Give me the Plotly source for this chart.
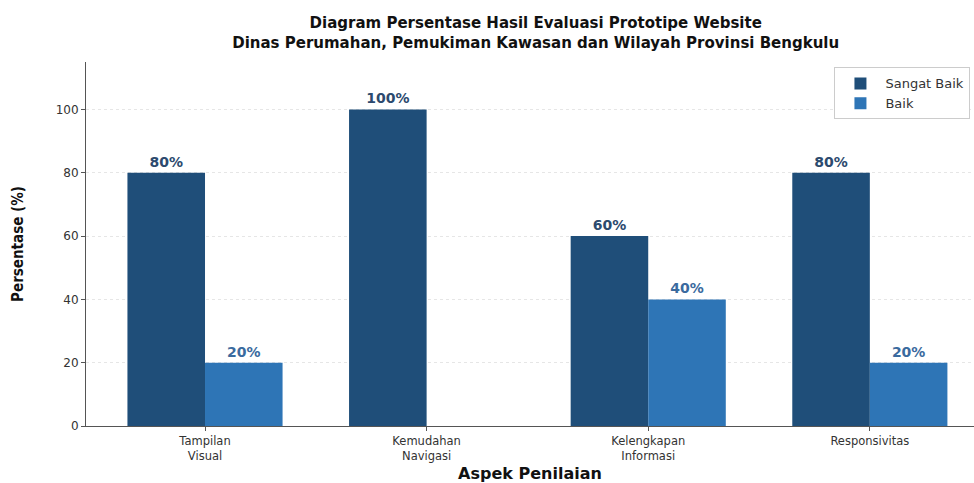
import plotly.graph_objects as go

categories = ["Tampilan<br>Visual", "Kemudahan<br>Navigasi", "Kelengkapan<br>Informasi", "Responsivitas"]
sangat_baik = [80, 100, 60, 80]
baik = [20, 0, 40, 20]
y_ticks = [0, 20, 40, 60, 80, 100]

dark = "#1f4e79"
light = "#2e75b6"

def labels(vals):
    return [f"{v}%" if v > 0 else "" for v in vals]

fig = go.Figure()
fig.add_trace(go.Bar(
    x=list(range(len(categories))), y=sangat_baik, name="Sangat Baik",
    marker=dict(color=dark, line=dict(width=0)),
    text=labels(sangat_baik), textposition="outside",
    textfont=dict(family="DejaVu Sans", size=14, color="#2c4a6e", weight="bold"),
    cliponaxis=False,
))
fig.add_trace(go.Bar(
    x=list(range(len(categories))), y=baik, name="Baik",
    marker=dict(color=light, line=dict(width=0)),
    text=labels(baik), textposition="outside",
    textfont=dict(family="DejaVu Sans", size=14, color="#3a6a9e", weight="bold"),
    cliponaxis=False,
))

fig.update_layout(
    width=974, height=483,
    margin=dict(l=86, r=0, t=62, b=57),
    plot_bgcolor="white", paper_bgcolor="white",
    barmode="group", bargap=0.3, bargroupgap=0,
    font=dict(family="DejaVu Sans", size=12, color="#333333"),
    title=dict(
        text="Diagram Persentase Hasil Evaluasi Prototipe Website<br>Dinas Perumahan, Pemukiman Kawasan dan Wilayah Provinsi Bengkulu",
        x=0.55, xanchor="center", y=1 - 28 / 483, yanchor="middle",
        font=dict(family="DejaVu Sans", size=15, color="#111111", weight="bold"),
    ),
    legend=dict(
        x=0.996, xanchor="right", y=0.985, yanchor="top",
        bgcolor="white", bordercolor="#cccccc", borderwidth=1,
        font=dict(family="DejaVu Sans", size=13, color="#333333"),
        traceorder="normal", itemwidth=40, tracegroupgap=0,
    ),
    xaxis=dict(
        tickmode="array", tickvals=list(range(len(categories))), ticktext=categories,
        range=[-0.537, 3.47],
        showline=True, linecolor="#555555", linewidth=1,
        ticks="outside", ticklen=4, tickcolor="#555555",
        showgrid=False,
        title=dict(text="Aspek Penilaian", standoff=8,
                   font=dict(family="DejaVu Sans", size=16, color="#111111", weight="bold")),
        tickfont=dict(family="DejaVu Sans", size=11.5, color="#333333"),
    ),
    yaxis=dict(
        range=[0, 115], tickvals=y_ticks,
        showline=True, linecolor="#555555", linewidth=1,
        ticks="outside", ticklen=4, tickcolor="#555555",
        showgrid=True, gridcolor="#e6e6e6", griddash="dot", gridwidth=1,
        zeroline=False,
        title=dict(text="Persentase (%)", standoff=28,
                   font=dict(family="DejaVu Sans Condensed, DejaVu Sans", size=15, color="#111111", weight="bold")),
        tickfont=dict(family="DejaVu Sans", size=12, color="#333333"),
    ),
)

fig.write_html("out.html")
